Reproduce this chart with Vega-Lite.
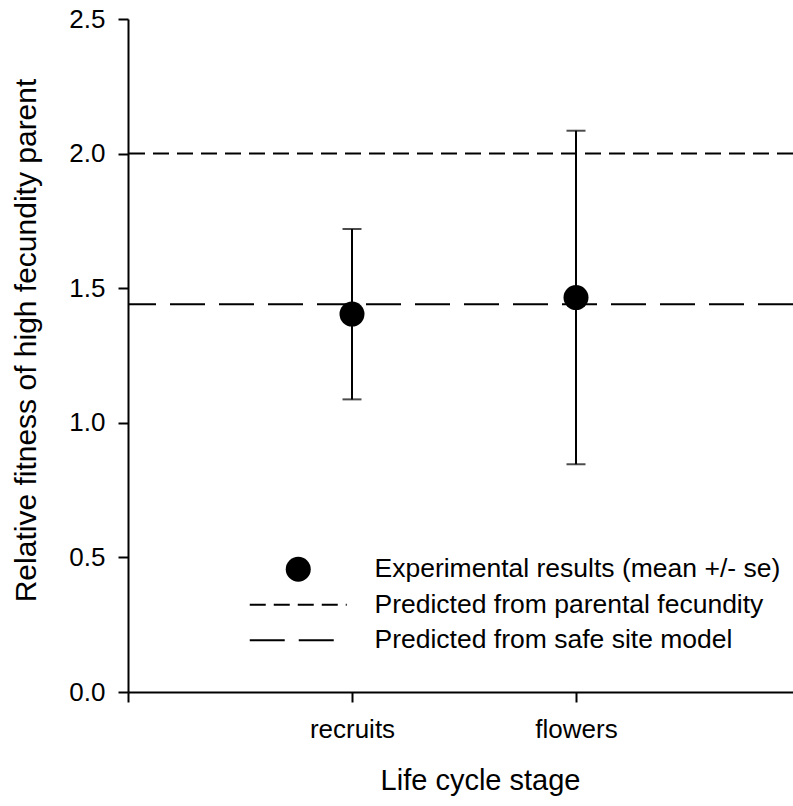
{
  "$schema": "https://vega.github.io/schema/vega-lite/v6.json",
  "autosize": "none",
  "width": 665,
  "height": 673,
  "padding": {"left": 128, "top": 19, "right": 0, "bottom": 114},
  "background": "white",
  "config": {
    "view": {"stroke": null},
    "font": "Liberation Sans",
    "axis": {
      "domainColor": "black",
      "domainWidth": 2,
      "tickColor": "black",
      "tickWidth": 2,
      "tickSize": 10,
      "labelColor": "black",
      "titleColor": "black",
      "labelFont": "Liberation Sans",
      "titleFont": "Liberation Sans",
      "labelFontSize": 26,
      "titleFontSize": 29,
      "titleFontWeight": "normal",
      "grid": false
    }
  },
  "datasets": {
    "results": [
      {"stage": "recruits", "mean": 1.404, "lower": 1.087, "upper": 1.72},
      {"stage": "flowers", "mean": 1.465, "lower": 0.846, "upper": 2.085}
    ],
    "predictions": [
      {"series": "Predicted from parental fecundity", "value": 2.0},
      {"series": "Predicted from safe site model", "value": 1.44}
    ]
  },
  "layer": [
    {
      "data": {"name": "predictions"},
      "mark": {"type": "rule", "color": "black", "strokeWidth": 2},
      "encoding": {
        "y": {
          "field": "value",
          "type": "quantitative",
          "scale": {"domain": [0, 2.5], "nice": false, "zero": true},
          "axis": {
            "values": [0, 0.5, 1, 1.5, 2, 2.5],
            "format": ".1f",
            "labelPadding": 13,
            "title": "Relative fitness of high fecundity parent",
            "titleFontSize": 30,
            "titlePadding": 27,
            "titleY": 321
          }
        },
        "strokeDash": {
          "field": "series",
          "type": "nominal",
          "scale": {
            "domain": ["Experimental results (mean +/- se)", "Predicted from parental fecundity", "Predicted from safe site model"],
            "range": [[1, 0], [16, 8], [35, 14]]
          },
          "legend": {
            "title": null,
            "orient": "none",
            "legendX": 157,
            "legendY": 537,
            "padding": 0,
            "labelFont": "Liberation Sans",
            "labelFontSize": 26.5,
            "labelColor": "black",
            "labelLimit": 0,
            "labelOffset": 63,
            "symbolSize": 9409,
            "symbolStrokeWidth": 2,
            "symbolStrokeColor": "black",
            "rowPadding": 8.5,
            "encode": {
              "symbols": {
                "update": {
                  "shape": {"signal": "datum.value === 'Experimental results (mean +/- se)' ? 'circle' : 'stroke'"},
                  "size": {"signal": "datum.value === 'Experimental results (mean +/- se)' ? 625 : 9409"},
                  "fill": {"signal": "datum.value === 'Experimental results (mean +/- se)' ? 'black' : 'transparent'"},
                  "stroke": {"value": "black"},
                  "strokeWidth": {"signal": "datum.value === 'Experimental results (mean +/- se)' ? 0 : 2"}
                }
              }
            }
          }
        }
      }
    },
    {
      "mark": {"type": "rule", "color": "black", "strokeWidth": 2},
      "encoding": {"y": {"datum": 2.5}}
    },
    {
      "data": {"name": "results"},
      "mark": {"type": "rule", "color": "black", "strokeWidth": 2},
      "encoding": {
        "x": {
          "field": "stage",
          "type": "nominal",
          "scale": {"type": "point", "domain": ["_start", "recruits", "flowers", "_end"], "range": [0, 672], "padding": 0},
          "axis": {
            "labelAngle": 0,
            "labelPadding": 14,
            "labelExpr": "indexof(datum.value, '_') === 0 ? '' : datum.value",
            "title": "Life cycle stage",
            "titlePadding": 24,
            "titleX": 352
          }
        },
        "y": {"field": "lower", "type": "quantitative"},
        "y2": {"field": "upper"}
      }
    },
    {
      "data": {"name": "results"},
      "mark": {"type": "tick", "color": "black", "orient": "horizontal", "size": 19, "thickness": 2},
      "encoding": {
        "x": {"field": "stage", "type": "nominal"},
        "y": {"field": "lower", "type": "quantitative"}
      }
    },
    {
      "data": {"name": "results"},
      "mark": {"type": "tick", "color": "black", "orient": "horizontal", "size": 19, "thickness": 2},
      "encoding": {
        "x": {"field": "stage", "type": "nominal"},
        "y": {"field": "upper", "type": "quantitative"}
      }
    },
    {
      "data": {"name": "results"},
      "mark": {"type": "point", "shape": "circle", "filled": true, "color": "black", "size": 625, "opacity": 1},
      "encoding": {
        "x": {"field": "stage", "type": "nominal"},
        "y": {"field": "mean", "type": "quantitative"}
      }
    }
  ]
}
